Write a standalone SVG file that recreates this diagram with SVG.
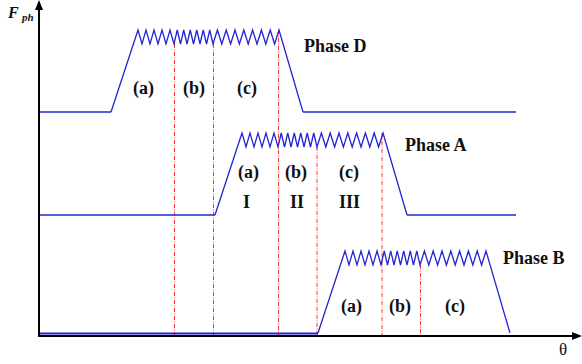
<svg xmlns="http://www.w3.org/2000/svg" xmlns:xlink="http://www.w3.org/1999/xlink" width="582" height="364" viewBox="0 0 582 364">
<style>
.ax{stroke:#000;stroke-width:2;fill:none}
.sig{stroke:#2424d4;stroke-width:1.3;fill:none;stroke-linejoin:miter}
.base{stroke:#2424d4;stroke-width:1.3;fill:none}
.guide{stroke:#ff3030;stroke-width:1;stroke-dasharray:4,1.5,1,1.5;fill:none}
.lbl{font-family:"Liberation Serif","Times New Roman",serif;font-weight:bold;font-size:18px;fill:#111}
</style>
<defs>
<path id="pulse" d="M0,0 l27,-82 l4,14 4,-14 4,14 4,-14 4,14 4,-14 4,14 4,-14 4,14 l3.25,-14 3.25,14 3.25,-14 3.25,14 3.25,-14 3.25,14 3.25,-14 3.25,14 3.25,-14 3.25,14 3.25,-14 3.25,14 l4.4,-14 4.4,14 4.4,-14 4.4,14 4.4,-14 4.4,14 4.4,-14 4.4,14 4.4,-14 4.4,14 4.4,-14 4.4,14 4.4,-14 4.4,14 4.4,-14 l24,82"/>
</defs>
<g id="guides">
<line class="guide" x1="174.5" y1="44" x2="174.5" y2="335"/>
<line class="guide" x1="213.5" y1="44" x2="213.5" y2="335"/>
<line class="guide" x1="278.5" y1="30" x2="278.5" y2="335"/>
<line class="guide" x1="317" y1="147" x2="317" y2="335"/>
<line class="guide" x1="382" y1="133" x2="382" y2="335"/>
<line class="guide" x1="420.5" y1="265" x2="420.5" y2="335"/>
</g>
<g id="phaseD">
<line class="base" x1="39" y1="112" x2="111" y2="112"/>
<use xlink:href="#pulse" href="#pulse" class="sig" transform="translate(111,112)"/>
<line class="base" x1="303" y1="112" x2="516" y2="112"/>
<text class="lbl" x="304" y="52">Phase D</text>
<text class="lbl" x="133" y="94">(a)</text>
<text class="lbl" x="183" y="94">(b)</text>
<text class="lbl" x="237" y="94">(c)</text>
</g>
<g id="phaseA">
<line class="base" x1="39" y1="215" x2="215" y2="215"/>
<use xlink:href="#pulse" href="#pulse" class="sig" transform="translate(215,215)"/>
<line class="base" x1="407" y1="215" x2="516" y2="215"/>
<text class="lbl" x="405" y="151">Phase A</text>
<text class="lbl" x="238" y="178">(a)</text>
<text class="lbl" x="285" y="178">(b)</text>
<text class="lbl" x="339" y="178">(c)</text>
<text class="lbl" x="243" y="208">I</text>
<text class="lbl" x="290" y="208">II</text>
<text class="lbl" x="339" y="208">III</text>
</g>
<g id="phaseB">
<line class="base" x1="39" y1="333.5" x2="318" y2="333.5" style="stroke-width:1.8"/>
<use xlink:href="#pulse" href="#pulse" class="sig" transform="translate(318,333)"/>
<text class="lbl" x="503" y="264">Phase B</text>
<text class="lbl" x="341" y="312">(a)</text>
<text class="lbl" x="389" y="312">(b)</text>
<text class="lbl" x="445" y="312">(c)</text>
</g>
<g id="axes">
<line class="ax" x1="39" y1="336" x2="39" y2="8"/>
<line class="ax" x1="38" y1="336" x2="573" y2="336"/>
<polygon points="39,0 35,10 43,10" fill="#000"/>
<polygon points="582,336 572,332 572,340" fill="#000"/>
<text x="8" y="18" style="font-family:'Liberation Serif','Times New Roman',serif;font-weight:bold;font-style:italic;font-size:16px;fill:#111">F</text>
<text x="22" y="21" style="font-family:'Liberation Serif','Times New Roman',serif;font-weight:bold;font-style:italic;font-size:11px;fill:#111">ph</text>
<text x="559" y="355" style="font-family:'Liberation Serif','Times New Roman',serif;font-size:17px;fill:#111">θ</text>
</g>
</svg>
